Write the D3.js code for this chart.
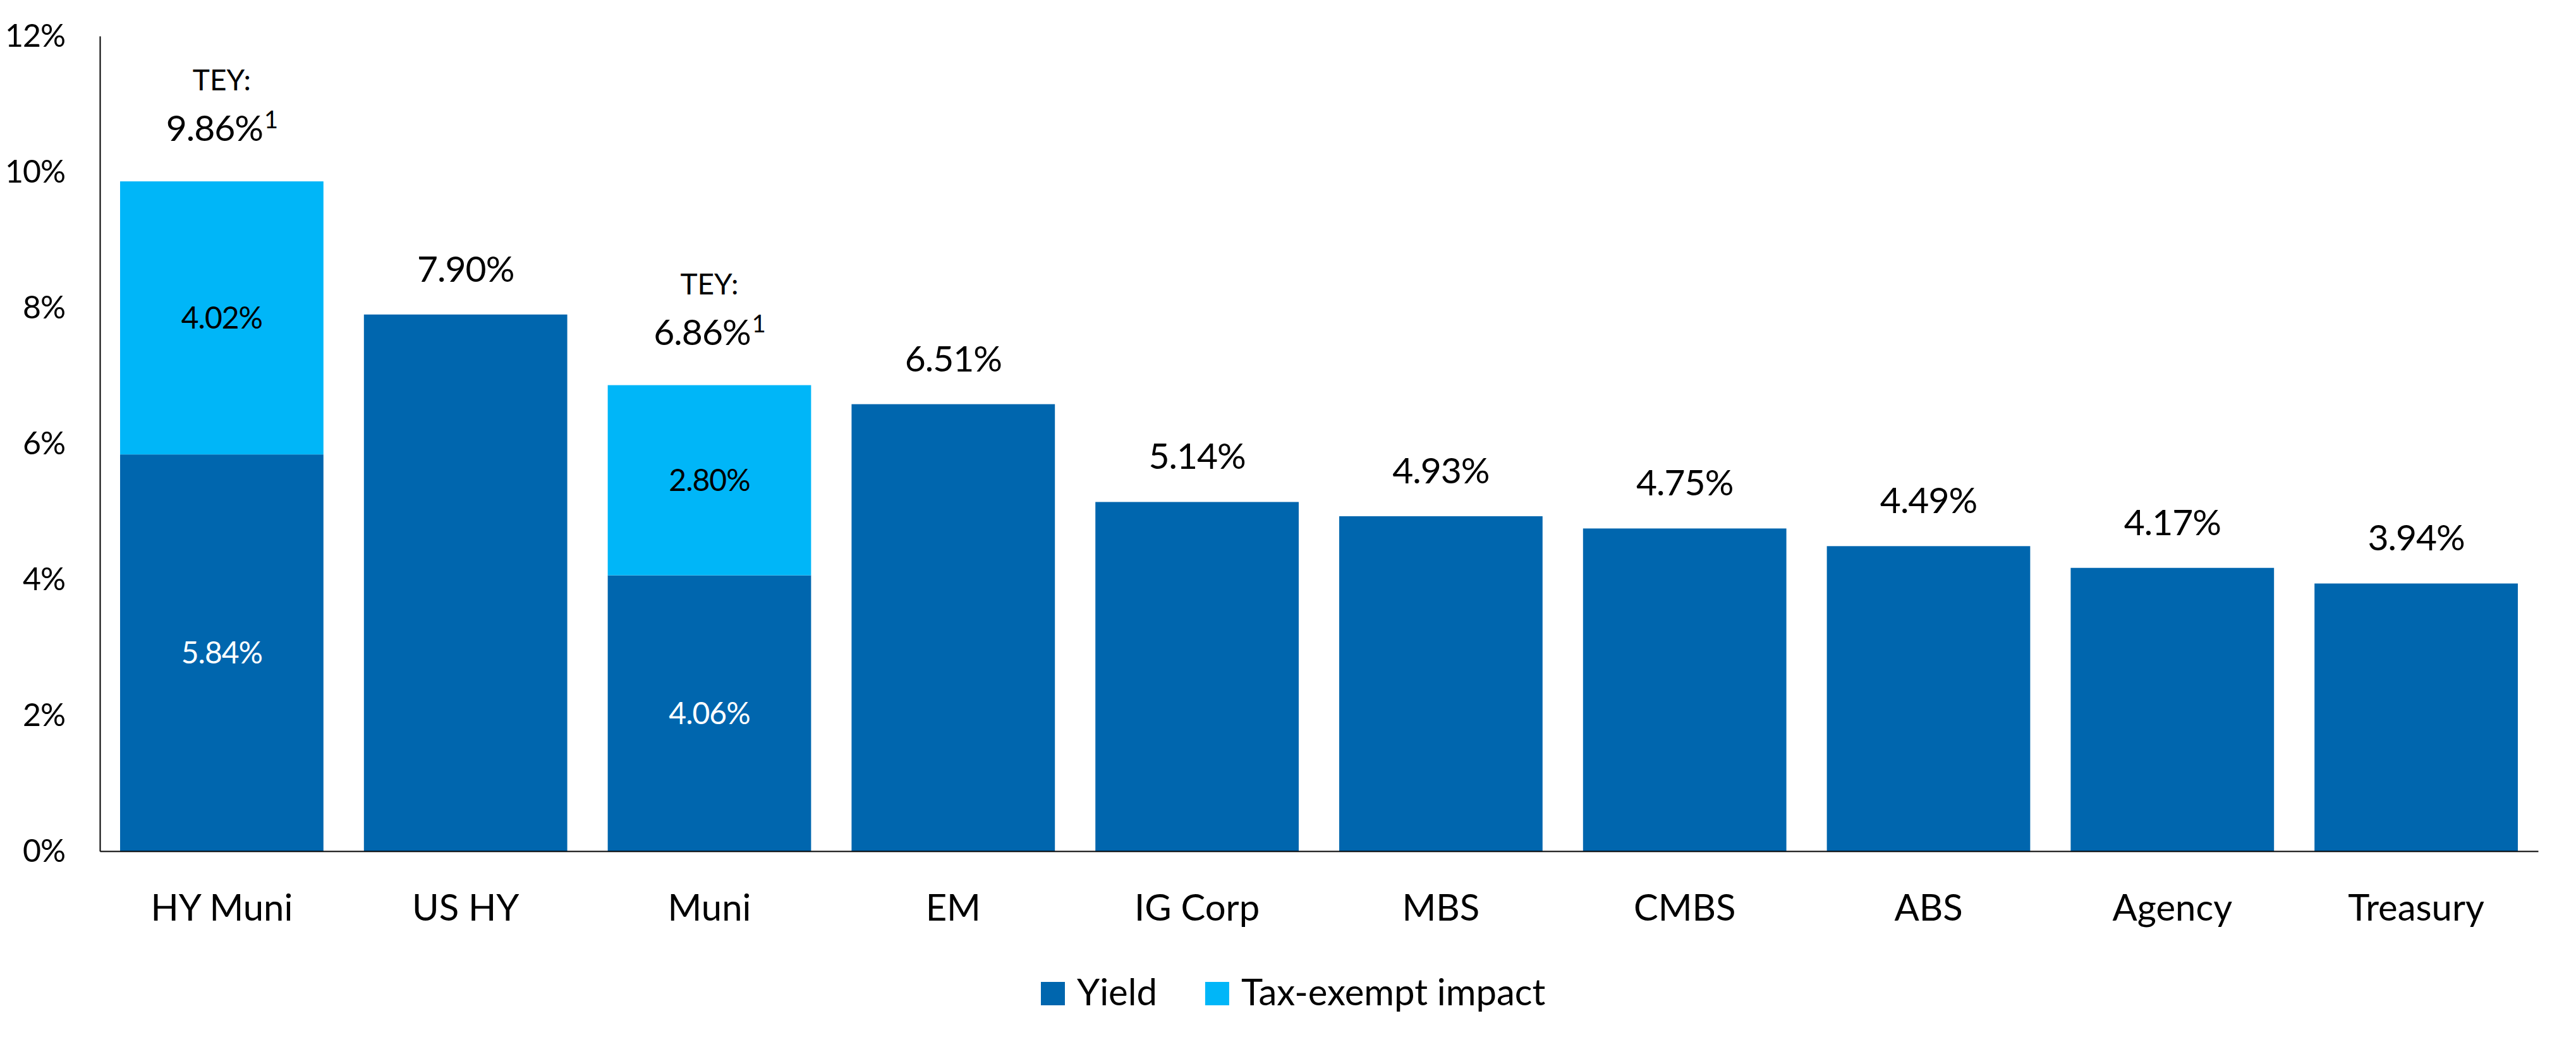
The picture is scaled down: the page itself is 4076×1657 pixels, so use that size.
<!DOCTYPE html>
<html>
  <head>
    <meta charset="UTF-8" />
    <style>
      body {
        margin: 0;
        background: #fff;
      }
      svg {
        display: block;
        font-family: Lato, "Open Sans", sans-serif;
      }
      .axis text {
        fill: #000;
      }
      .axis path {
        stroke: #000;
        stroke-width: 2px;
      }
      .num {
        letter-spacing: -1px;
      }
    </style>
  </head>
  <body>
    <svg></svg>
    <script src="https://d3js.org/d3.v7.min.js"></script>
    <script>
      // chart data
      let categories = ["HY Muni", "US HY", "Muni", "EM", "IG Corp", "MBS", "CMBS", "ABS", "Agency", "Treasury"];
      let yieldValues = [5.84, 7.9, 4.06, 6.58, 5.14, 4.93, 4.75, 4.49, 4.17, 3.94];
      let taxExemptValues = [4.02, 0, 2.8, 0, 0, 0, 0, 0, 0, 0];
      let yieldLabels = ["5.84%", "7.90%", "4.06%", "6.51%", "5.14%", "4.93%", "4.75%", "4.49%", "4.17%", "3.94%"];
      let taxExemptLabels = ["4.02%", "", "2.80%", "", "", "", "", "", "", ""];
      let teyLabels = ["9.86%", "", "6.86%", "", "", "", "", "", "", ""];
      let yTicks = [0, 2, 4, 6, 8, 10, 12];
      let seriesNames = ["Yield", "Tax-exempt impact"];

      let width = 4076,
        height = 1657;

      let darkBlue = "#0066ae",
        lightBlue = "#00b6f8";

      let svg = d3.select("svg").attr("width", width).attr("height", height);

      let x = d3
        .scaleBand()
        .domain(categories)
        .range([158, 4016])
        .paddingInner(0.166)
        .paddingOuter(0.083);

      let y = d3.scaleLinear().domain([0, 12]).range([1347, 57]);

      let color = d3.scaleOrdinal().domain(["yield", "tax"]).range([darkBlue, lightBlue]);

      // table for the stack layout
      let rows = categories.map((c, i) => ({
        cat: c,
        i: i,
        yield: yieldValues[i],
        tax: taxExemptValues[i],
      }));

      let stacked = d3.stack().keys(["yield", "tax"])(rows);

      // bars
      svg
        .append("g")
        .selectAll("g")
        .data(stacked)
        .enter()
        .append("g")
        .attr("fill", (d) => color(d.key))
        .selectAll("rect")
        .data((d) => d.filter((p) => p[1] > p[0]))
        .enter()
        .append("rect")
        .attr("x", (d) => x(d.data.cat))
        .attr("width", x.bandwidth())
        .attr("y", (d) => y(d[1]))
        .attr("height", (d) => y(d[0]) - y(d[1]));

      // axes
      svg
        .append("g")
        .attr("class", "axis")
        .attr("transform", "translate(158,0)")
        .call(
          d3
            .axisLeft(y)
            .tickValues(yTicks)
            .tickSize(0)
            .tickPadding(55)
            .tickFormat((d) => d + "%")
        )
        .attr("font-family", null)
        .attr("font-size", null)
        .call((g) => g.selectAll("text").attr("font-size", 50).attr("class", "num"));

      svg
        .append("g")
        .attr("class", "axis")
        .attr("transform", "translate(0,1347)")
        .call(d3.axisBottom(x).tickSize(0).tickPadding(69))
        .attr("font-family", null)
        .attr("font-size", null)
        .call((g) => g.selectAll("text").attr("font-size", 58));

      // value labels
      let labels = svg.append("g").attr("text-anchor", "middle");

      rows.forEach((d) => {
        let cx = x(d.cat) + x.bandwidth() / 2;
        let total = d.yield + d.tax;
        if (d.tax > 0) {
          labels
            .append("text")
            .attr("class", "num")
            .attr("x", cx)
            .attr("y", y(d.yield / 2))
            .attr("dy", "0.36em")
            .attr("font-size", 48)
            .attr("fill", "#fff")
            .text(yieldLabels[d.i]);
          labels
            .append("text")
            .attr("class", "num")
            .attr("x", cx)
            .attr("y", y(d.yield + d.tax / 2))
            .attr("dy", "0.36em")
            .attr("font-size", 48)
            .attr("fill", "#000")
            .text(taxExemptLabels[d.i]);
          labels
            .append("text")
            .attr("x", cx)
            .attr("y", y(total) - 144)
            .attr("font-size", 46)
            .text("TEY:");
          let t = labels
            .append("text")
            .attr("class", "num")
            .attr("x", cx)
            .attr("y", y(total) - 64)
            .attr("font-size", 57);
          t.append("tspan").text(teyLabels[d.i]);
          t.append("tspan").attr("font-size", 38).attr("dy", -20).attr("dx", 2).text("1");
        } else {
          labels
            .append("text")
            .attr("class", "num")
            .attr("x", cx)
            .attr("y", y(total) - 52)
            .attr("font-size", 57)
            .text(yieldLabels[d.i]);
        }
      });

      // legend
      let legend = svg.append("g").attr("transform", "translate(1647,1591)");
      let lx = 0;
      seriesNames.forEach((name, i) => {
        legend
          .append("rect")
          .attr("x", lx)
          .attr("y", -37)
          .attr("width", 38)
          .attr("height", 37)
          .attr("fill", color.range()[i]);
        let txt = legend
          .append("text")
          .attr("x", lx + 57)
          .attr("y", 0)
          .attr("font-size", 58)
          .text(name);
        lx += 57 + txt.node().getComputedTextLength() + 76;
      });
    </script>
  </body>
</html>
